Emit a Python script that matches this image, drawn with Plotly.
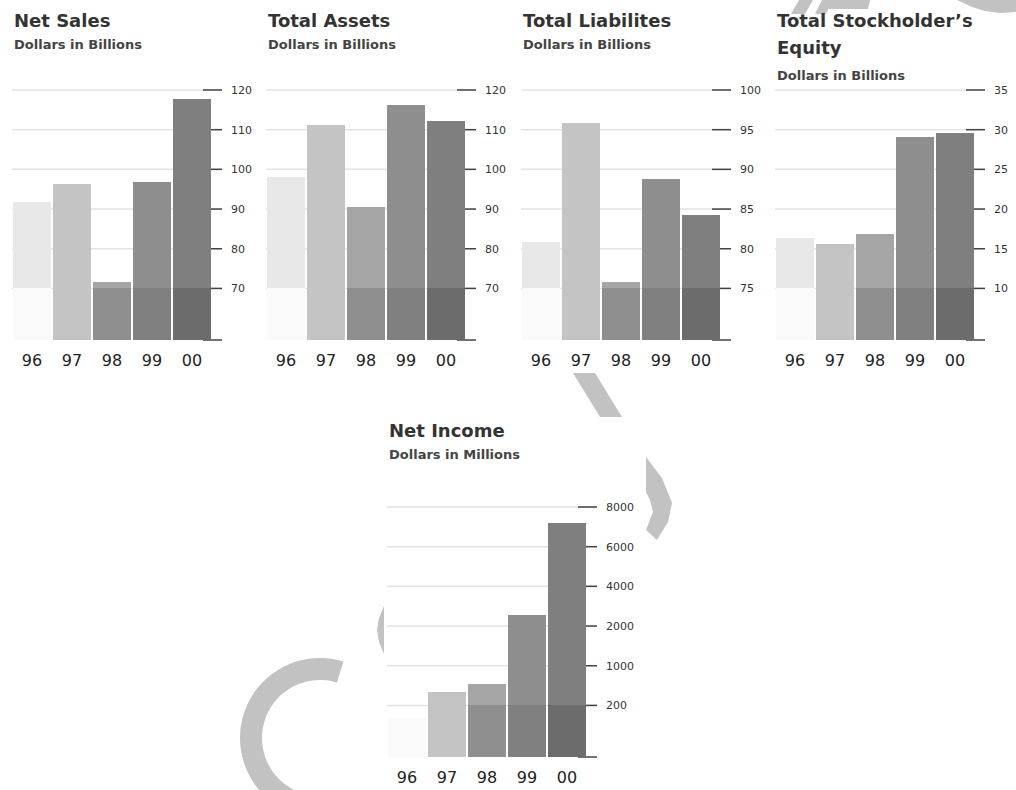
import numpy as np
import plotly.graph_objects as go

W, H = 1016, 790

years = ["96", "97", "98", "99", "00"]

net_sales = [91.7, 96.2, 71.6, 96.7, 117.7]            # $ billions
total_assets = [98.1, 111.2, 90.6, 116.2, 112.1]       # $ billions
total_liabilities = [80.8, 95.8, 75.8, 88.8, 84.3]     # $ billions
stockholders_equity = [16.3, 15.6, 16.8, 29.1, 29.6]   # $ billions
net_income = [150, 480, 640, 2550, 7200]               # $ millions

ticks_sales = [70, 80, 90, 100, 110, 120]
ticks_assets = [70, 80, 90, 100, 110, 120]
ticks_liab = [75, 80, 85, 90, 95, 100]
ticks_equity = [10, 15, 20, 25, 30, 35]
ticks_income = [200, 1000, 2000, 4000, 6000, 8000]

upper_colors = ["#e8e8e8", "#c4c4c4", "#a5a5a5", "#8e8e8e", "#7f7f7f"]
lower_colors = ["#fafafa", "#c4c4c4", "#8f8f8f", "#808080", "#6c6c6c"]

FONT = "DejaVu Sans"


def px_x(v):
    return v / W


def px_y(v):
    return 1 - v / H


# income axis: labelled ticks equally spaced (piecewise scale)
income_xp = [0] + ticks_income
income_fp = [-1.3, 0, 1, 2, 3, 4, 5]


def income_scale(vals):
    return list(np.interp(vals, income_xp, income_fp))


panels = [
    dict(title=["Net Sales"], sub="Dollars in Billions", vals=net_sales, ticks=ticks_sales,
         step=10, x0=12, y0=89, title_y=[20], sub_y=45),
    dict(title=["Total Assets"], sub="Dollars in Billions", vals=total_assets, ticks=ticks_assets,
         step=10, x0=266, y0=89, title_y=[20], sub_y=45),
    dict(title=["Total Liabilites"], sub="Dollars in Billions", vals=total_liabilities, ticks=ticks_liab,
         step=5, x0=521, y0=89, title_y=[20], sub_y=45),
    dict(title=["Total Stockholder\u2019s", "Equity"], sub="Dollars in Billions", vals=stockholders_equity,
         ticks=ticks_equity, step=5, x0=775, y0=89, title_y=[20, 48], sub_y=75),
    dict(title=["Net Income"], sub="Dollars in Millions", vals=net_income, ticks=ticks_income,
         step=None, x0=387, y0=506, title_y=[430], sub_y=455),
]

fig = go.Figure()
annotations = []
shapes = []
PW, PH = 210, 252
TICKLEN = 19

for i, p in enumerate(panels, start=1):
    xa = "x" if i == 1 else f"x{i}"
    ya = "y" if i == 1 else f"y{i}"
    if p["step"] is None:
        pos = income_scale(p["vals"])
        tickpos = income_scale(p["ticks"])
        unit = 1.0
        split = tickpos[0]
        bottom = -1.3
        top = tickpos[-1]
    else:
        pos = list(p["vals"])
        tickpos = list(p["ticks"])
        unit = p["step"]
        split = p["ticks"][0]
        bottom = split - 1.3 * unit
        top = p["ticks"][-1]
    eps = unit * 1.0 / 40
    lower = [min(v, split) - bottom for v in pos]
    upper = [max(v - split, 0) for v in pos]
    fig.add_trace(go.Bar(x=years, y=lower, base=[bottom] * 5, marker=dict(color=lower_colors, line=dict(width=0)),
                         width=0.95, xaxis=xa, yaxis=ya, showlegend=False, hoverinfo="skip"))
    fig.add_trace(go.Bar(x=years, y=upper, base=[split] * 5, marker=dict(color=upper_colors, line=dict(width=0)),
                         width=0.95, xaxis=xa, yaxis=ya, showlegend=False,
                         customdata=p["vals"], hovertemplate="%{x}: %{customdata}<extra></extra>"))
    x0, y0 = p["x0"], p["y0"]
    xk = "xaxis" if i == 1 else f"xaxis{i}"
    yk = "yaxis" if i == 1 else f"yaxis{i}"
    fig.layout[xk] = dict(domain=[px_x(x0), px_x(x0 + PW)], range=[-0.5, 4.75], anchor=ya,
                          showgrid=False, zeroline=False, showline=False, ticks="outside", ticklen=5,
                          tickcolor="rgba(0,0,0,0)", type="category",
                          tickfont=dict(family=FONT, size=16, color="#222"), automargin=False, fixedrange=True)
    fig.layout[yk] = dict(domain=[px_y(y0 + PH), px_y(y0)], range=[bottom - eps, top + eps],
                          anchor=xa, side="right",
                          tickvals=tickpos, ticktext=[str(t) for t in p["ticks"]],
                          ticks="", showgrid=False, zeroline=False, showline=False,
                          ticklabelstandoff=8,
                          tickfont=dict(family=FONT, size=11, color="#333"), automargin=False, fixedrange=True)
    # gridlines and tick dashes (beneath the bars)
    xdom = f"{xa} domain"
    for tv in tickpos:
        shapes.append(dict(type="line", xref=xdom, yref=ya, x0=0, x1=1, y0=tv, y1=tv,
                           line=dict(color="#e3e3e3", width=1.5), layer="below"))
    for tv in [bottom] + tickpos:
        shapes.append(dict(type="line", xref=xdom, yref=ya, x0=(PW - TICKLEN) / PW, x1=1, y0=tv, y1=tv,
                           line=dict(color="#444", width=1.5), layer="below"))
    for t, ty in zip(p["title"], p["title_y"]):
        annotations.append(dict(text=f"<b>{t}</b>", x=px_x(x0), y=px_y(ty), xref="paper", yref="paper",
                                xanchor="left", yanchor="middle", showarrow=False,
                                font=dict(family=FONT, size=18, color="#333")))
    annotations.append(dict(text=f"<b>{p['sub']}</b>", x=px_x(x0), y=px_y(p["sub_y"]), xref="paper", yref="paper",
                            xanchor="left", yanchor="middle", showarrow=False,
                            font=dict(family=FONT, size=13, color="#444")))

# decorative background watermark (grey strokes behind the panels)
WM = "#c2c2c2"


def poly(pts):
    s = "M " + " L ".join(f"{px_x(a):.5f},{px_y(b):.5f}" for a, b in pts) + " Z"
    return dict(type="path", path=s, xref="paper", yref="paper", fillcolor=WM, line=dict(width=0), layer="below")


# big "C"
cx, cy = 320, 738
ang = np.radians(np.linspace(73, 250, 60))
outer = [(cx + 80 * np.cos(a), cy - 80 * np.sin(a)) for a in ang]
inner = [(cx + 58 * np.cos(a), cy - 58 * np.sin(a)) for a in ang[::-1]]
shapes.append(poly(outer + inner))
# diagonal stroke under middle panel
shapes.append(poly([(573, 373), (595, 373), (622, 417), (600, 417)]))
# crescent right of net income
shapes.append(poly([(646, 457), (662, 478), (672, 503), (668, 522), (657, 540), (646, 530), (653, 512),
                    (650, 500), (646, 492)]))
# small lens left of net income
shapes.append(poly([(384, 606), (379, 618), (377, 630), (379, 642), (384, 654)]))
# top-right fragments
shapes.append(poly([(799, 0), (813, 0), (805, 14), (791, 14)]))
shapes.append(poly([(822, 0), (870, 0), (868, 9), (828, 9), (826, 14), (815, 14)]))
shapes.append(poly([(957, 0), (1016, 0), (1016, 12), (1000, 13), (985, 11), (972, 7)]))

fig.update_layout(
    width=W, height=H, margin=dict(l=0, r=0, t=0, b=0),
    paper_bgcolor="white", plot_bgcolor="white", barmode="overlay", bargap=0,
    annotations=annotations, shapes=shapes, font=dict(family=FONT),
)

fig.write_html("out.html")
